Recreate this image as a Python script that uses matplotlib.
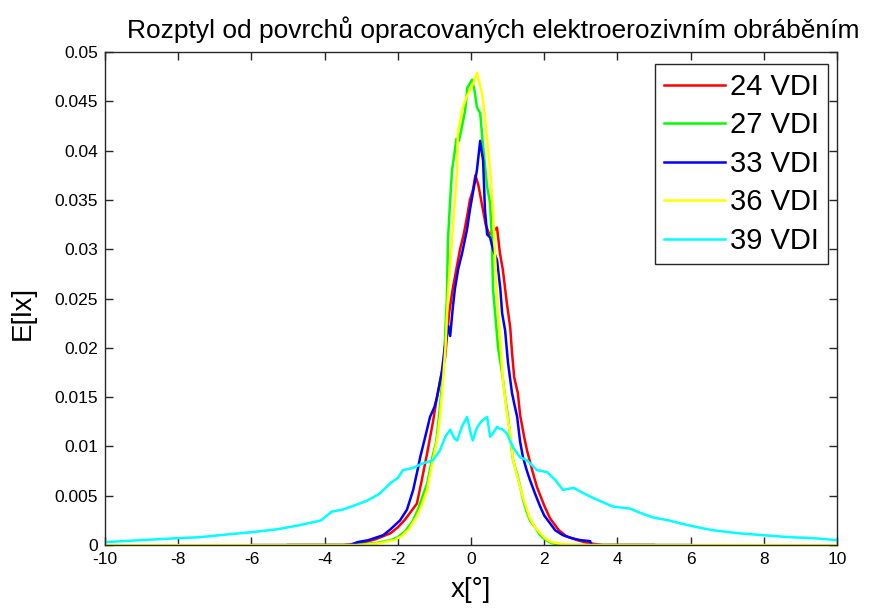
import numpy as np
import matplotlib
matplotlib.use('Agg')
import matplotlib.pyplot as plt
from matplotlib.ticker import FixedLocator, FuncFormatter

plt.rcParams['font.family'] = ['Liberation Sans', 'DejaVu Sans']
plt.rcParams['axes.unicode_minus'] = False

# ---- Scattering data (angle in degrees, intensity)
x_24 = [-5.0, -3.5, -3.0, -2.6, -2.2, -2.0, -1.8, -1.6, -1.48, -1.35, -1.2,
        -1.04, -0.93, -0.8, -0.71, -0.6, -0.5, -0.4, -0.3, -0.2, -0.11,
        -0.03, 0.05, 0.12, 0.2, 0.3, 0.4, 0.5, 0.6, 0.71, 0.79, 0.87, 0.98,
        1.07, 1.12, 1.18, 1.28, 1.34, 1.45, 1.53, 1.7, 1.8, 2.0, 2.16, 2.4,
        2.6, 2.9, 3.2, 3.6, 5.0]
y_24 = [0, 0, 0.0002, 0.0006, 0.0012, 0.0018, 0.0026, 0.0036, 0.0042,
        0.0065, 0.0093, 0.0125, 0.0150, 0.0175, 0.0190, 0.0235, 0.0260,
        0.0280, 0.0300, 0.0315, 0.0333, 0.0350, 0.0360, 0.0375, 0.0365,
        0.0345, 0.0325, 0.0315, 0.0318, 0.0322, 0.0296, 0.0279, 0.0245,
        0.0221, 0.0195, 0.0170, 0.0154, 0.0132, 0.0110, 0.0096, 0.0072,
        0.0059, 0.0040, 0.0027, 0.0015, 0.0009, 0.0005, 0.0002, 0, 0]

x_27 = [-5.0, -3.2, -2.6, -2.2, -2.0, -1.8, -1.6, -1.45, -1.3, -1.2, -1.05,
        -0.95, -0.85, -0.75, -0.66, -0.63, -0.57, -0.52, -0.46, -0.4, -0.33,
        -0.25, -0.16, -0.1, 0.03, 0.1, 0.16, 0.25, 0.33, 0.44, 0.52, 0.57,
        0.6, 0.67, 0.74, 0.85, 0.95, 1.01, 1.1, 1.15, 1.26, 1.35, 1.42, 1.52,
        1.61, 1.75, 1.89, 2.05, 2.2, 2.5, 5.0]
y_27 = [0, 0, 0.0002, 0.0005, 0.0008, 0.0014, 0.0024, 0.0036, 0.0052,
        0.0062, 0.0090, 0.0105, 0.0140, 0.0180, 0.0250, 0.0310, 0.0350,
        0.0380, 0.0395, 0.0412, 0.0410, 0.0424, 0.0441, 0.0464, 0.0472,
        0.0460, 0.0444, 0.0438, 0.0404, 0.0363, 0.0347, 0.0310, 0.0260,
        0.0230, 0.0200, 0.0174, 0.0145, 0.0130, 0.0100, 0.0086, 0.0072,
        0.0058, 0.0046, 0.0034, 0.0025, 0.0018, 0.0010, 0.0005, 0.0002, 0, 0]

x_33 = [-6.0, -5.0, -3.3, -3.1, -2.8, -2.4, -2.2, -1.94, -1.75, -1.58, -1.45,
        -1.39, -1.25, -1.12, -1.0, -0.93, -0.8, -0.72, -0.62, -0.57, -0.5,
        -0.44, -0.35, -0.25, -0.11, -0.03, 0.05, 0.16, 0.25, 0.33, 0.38,
        0.44, 0.52, 0.6, 0.71, 0.8, 0.85, 0.93, 1.01, 1.12, 1.2, 1.26, 1.34,
        1.42, 1.52, 1.61, 1.75, 1.89, 2.0, 2.16, 2.3, 2.51, 2.75, 2.98, 3.25,
        3.3, 6.0]
y_33 = [0, 0, 0, 0.0003, 0.0005, 0.0010, 0.0016, 0.0025, 0.0036, 0.0056,
        0.0078, 0.0089, 0.0110, 0.0130, 0.0140, 0.0150, 0.0175, 0.0200,
        0.0222, 0.0212, 0.0240, 0.0260, 0.0280, 0.0295, 0.0320, 0.0340,
        0.0357, 0.0380, 0.0410, 0.0390, 0.0340, 0.0315, 0.0312, 0.0300,
        0.0289, 0.0260, 0.0235, 0.0218, 0.0185, 0.0154, 0.0140, 0.0130,
        0.0105, 0.0089, 0.0076, 0.0066, 0.0052, 0.0039, 0.0030, 0.0022,
        0.0015, 0.0010, 0.0007, 0.0005, 0.0004, 0, 0]

x_36 = [-10.0, -3.0, -2.5, -2.1, -1.9, -1.7, -1.5, -1.35, -1.2, -1.05, -0.93,
        -0.85, -0.78, -0.7, -0.62, -0.52, -0.44, -0.38, -0.36, -0.25, -0.12,
        -0.03, 0.08, 0.16, 0.22, 0.3, 0.38, 0.46, 0.52, 0.6, 0.66, 0.7, 0.75,
        0.79, 0.87, 0.98, 1.07, 1.15, 1.26, 1.42, 1.61, 1.75, 1.89, 2.05,
        2.2, 2.5, 3.0, 10.0]
y_36 = [0, 0, 0.0002, 0.0005, 0.0009, 0.0016, 0.0028, 0.0040, 0.0056,
        0.0085, 0.0106, 0.0130, 0.0160, 0.0200, 0.0260, 0.0310, 0.0350,
        0.0380, 0.0418, 0.0441, 0.0455, 0.0461, 0.0470, 0.0479, 0.0470,
        0.0458, 0.0434, 0.0404, 0.0380, 0.0340, 0.0290, 0.0262, 0.0235,
        0.0211, 0.0167, 0.0134, 0.0112, 0.0086, 0.0070, 0.0048, 0.0027,
        0.0018, 0.0012, 0.0006, 0.0003, 0.0001, 0, 0]

x_39 = [-10.0, -9.0, -8.0, -7.4, -6.6, -6.0, -5.3, -4.7, -4.1, -3.8, -3.5,
        -3.2, -2.84, -2.5, -2.2, -2.0, -1.86, -1.6, -1.31, -1.04, -0.85,
        -0.7, -0.57, -0.45, -0.38, -0.25, -0.11, 0.0, 0.05, 0.15, 0.25, 0.33,
        0.44, 0.52, 0.6, 0.71, 0.79, 0.87, 0.98, 1.15, 1.34, 1.53, 1.8, 2.08,
        2.3, 2.51, 2.8, 3.1, 3.44, 3.88, 4.34, 4.6, 4.97, 5.4, 5.71, 6.2,
        6.61, 7.3, 7.98, 8.7, 9.34, 10.0]
y_39 = [0.0003, 0.0005, 0.0007, 0.0008, 0.0011, 0.0013, 0.0016, 0.0020,
        0.0025, 0.0034, 0.0036, 0.0040, 0.0045, 0.0052, 0.0063, 0.0068,
        0.0076, 0.0078, 0.0083, 0.0086, 0.0096, 0.0110, 0.0117, 0.0108,
        0.0106, 0.0120, 0.0130, 0.0112, 0.0106, 0.0118, 0.0124, 0.0127,
        0.0130, 0.0110, 0.0113, 0.0120, 0.0118, 0.0117, 0.0113, 0.0099,
        0.0089, 0.0086, 0.0076, 0.0074, 0.0066, 0.0056, 0.0058, 0.0052,
        0.0046, 0.0039, 0.0037, 0.0033, 0.0028, 0.0025, 0.0022, 0.0018,
        0.0015, 0.0012, 0.0010, 0.0008, 0.0007, 0.0005]

labels = ['24 VDI', '27 VDI', '33 VDI', '36 VDI', '39 VDI']
colors = ['#ff0000', '#00ff00', '#0000ff', '#ffff00', '#00ffff']
series = [(x_24, y_24), (x_27, y_27), (x_33, y_33), (x_36, y_36),
          (x_39, y_39)]

fig = plt.figure(figsize=(8.71, 6.09), dpi=100)
ax = fig.add_axes([0.1206, 0.105, 0.8404, 0.8095])

for (xs, ys), c, lab in zip(series, colors, labels):
    ax.plot(xs, ys, color=c, lw=1.8, label=lab)

ax.set_xlim(-10, 10)
ax.set_ylim(0, 0.05)
ax.xaxis.set_major_locator(FixedLocator(np.arange(-10, 10.1, 2)))
ax.yaxis.set_major_locator(FixedLocator(np.arange(0, 0.0501, 0.005)))
ax.yaxis.set_major_formatter(FuncFormatter(lambda v, p: '%g' % round(v, 4)))
ax.tick_params(direction='in', length=6, width=1, top=True, right=True,
               labelsize=12.5, pad=5, color='0.15')
for sp in ax.spines.values():
    sp.set_color('0.15')
    sp.set_linewidth(1.0)

ax.set_xlabel('x[°]', fontsize=20, labelpad=7)
ax.set_ylabel('E[lx]', fontsize=20)
ax.yaxis.set_label_coords(-0.094, 0.47)
ax.set_title('Rozptyl od povrchů opracovaných elektroerozivním obráběním',
             fontsize=19, pad=10, x=0.531)

leg = ax.legend(loc='upper right', bbox_to_anchor=(0.9877, 0.9757),
                borderaxespad=0, fontsize=21, handlelength=2.1,
                handletextpad=0.17, labelspacing=0.36, borderpad=0.3,
                fancybox=False, framealpha=1, edgecolor='0.15')
leg.get_frame().set_linewidth(1.0)

fig.savefig('out.png', dpi=100, facecolor='white')
